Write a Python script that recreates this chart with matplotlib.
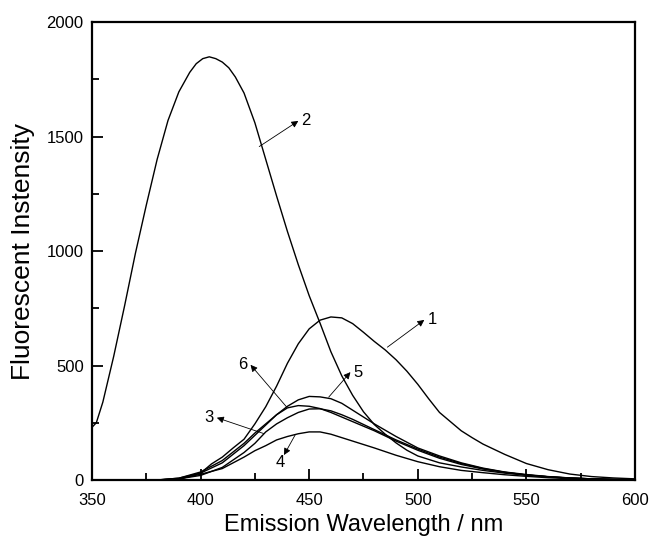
import numpy as np
import matplotlib
matplotlib.use('Agg')
import matplotlib.pyplot as plt
from matplotlib.ticker import MultipleLocator

plt.rcParams['font.family'] = ['Liberation Sans', 'DejaVu Sans']

# 曲线数据 (波长 nm : 荧光强度)
wl_1 = [380, 390, 400, 405, 410, 415, 420, 425, 430, 435, 440, 445, 450, 455, 460, 465,
        470, 475, 480, 485, 490, 495, 500, 505, 510, 515, 520, 525, 530, 540, 550, 560,
        570, 580, 590, 600]
y_1 = [0, 3, 30, 70, 100, 140, 178, 245, 320, 410, 510, 595, 660, 698, 712, 708,
       683, 645, 605, 568, 525, 475, 418, 355, 295, 255, 215, 185, 157, 112, 72, 45,
       26, 15, 9, 5]

wl_2 = [350, 352, 355, 360, 365, 370, 375, 380, 385, 390, 395, 398, 401, 404, 407, 410,
        413, 416, 420, 425, 430, 435, 440, 445, 450, 455, 460, 465, 470, 475, 480, 485,
        490, 495, 500, 510, 520, 530, 540, 550, 560, 570, 580, 590, 600]
y_2 = [230, 250, 340, 540, 760, 990, 1200, 1400, 1570, 1695, 1780, 1818, 1840, 1848, 1840, 1825,
       1800, 1760, 1690, 1560, 1400, 1240, 1085, 940, 805, 685, 560, 455, 370, 298, 242, 200,
       162, 130, 105, 75, 57, 42, 30, 21, 14, 9, 5, 3, 2]

wl_c = [380, 390, 400, 410, 420, 425, 430, 435, 440, 445, 450, 455, 460, 465, 470, 480,
        490, 500, 510, 520, 530, 540, 550, 560, 570, 580, 590, 600]
y_3 = [0, 5, 20, 55, 120, 160, 210, 245, 272, 295, 310, 311, 302, 285, 265, 220,
       175, 135, 100, 72, 50, 34, 22, 14, 8, 5, 2, 1]
y_4 = [0, 5, 25, 50, 100, 128, 150, 175, 190, 202, 210, 210, 200, 185, 170, 140,
       108, 80, 58, 42, 32, 23, 16, 10, 6, 4, 2, 1]
y_5 = [0, 8, 30, 75, 150, 195, 240, 285, 322, 350, 365, 363, 355, 335, 305, 245,
       190, 140, 105, 75, 52, 35, 24, 15, 9, 5, 2, 1]
y_6 = [0, 8, 35, 85, 160, 205, 245, 285, 315, 325, 322, 312, 295, 275, 255, 215,
       170, 130, 95, 68, 48, 33, 22, 14, 8, 5, 2, 1]

# 标注: 编号, 曲线上的点, 箭头位置
labels = ['1', '2', '3', '4', '5', '6']
tails = [(486, 580), (427, 1456), (429, 203), (443.5, 196), (459, 362), (439.6, 319)]
heads = [(503, 699), (445, 1568), (407.5, 272), (438.4, 109), (469, 471), (423, 503)]

fig = plt.figure(figsize=(6.5, 5.38), dpi=100)
ax = fig.add_axes([0.1415, 0.1078, 0.8354, 0.8513])

for wl, y in [(wl_1, y_1), (wl_2, y_2), (wl_c, y_3), (wl_c, y_4), (wl_c, y_5), (wl_c, y_6)]:
    ax.plot(wl, y, color='black', lw=1.0)

for lab, (tx, ty), (hx, hy) in zip(labels, tails, heads):
    ax.annotate('', xy=(hx, hy), xytext=(tx, ty),
                arrowprops=dict(arrowstyle='-|>', color='black', lw=0.6,
                                mutation_scale=10, shrinkA=0, shrinkB=0))
    ha = 'left' if hx > tx else 'right'
    dx = 1.5 if hx > tx else -1.5
    va = 'center'
    if lab == '4':
        ha, dx, va = 'right', 0.5, 'top'
    ax.text(hx + dx, hy, lab, ha=ha, va=va, fontsize=12)

ax.set_xlim(350, 600)
ax.set_ylim(0, 2000)
ax.xaxis.set_major_locator(MultipleLocator(50))
ax.xaxis.set_minor_locator(MultipleLocator(25))
ax.yaxis.set_major_locator(MultipleLocator(500))
ax.yaxis.set_minor_locator(MultipleLocator(250))
ax.tick_params(which='both', direction='in', top=False, right=False, width=1.3, labelsize=12)
ax.tick_params(which='major', length=8)
ax.tick_params(which='minor', length=5)
ax.tick_params(axis='x', which='major', pad=9)
ax.tick_params(axis='y', which='major', pad=6)
for s in ax.spines.values():
    s.set_linewidth(1.6)

ax.set_xlabel('Emission Wavelength / nm', fontsize=17, labelpad=5)
ax.set_ylabel('Fluorescent Instensity', fontsize=19, labelpad=8)

fig.savefig('out.png', dpi=100)
